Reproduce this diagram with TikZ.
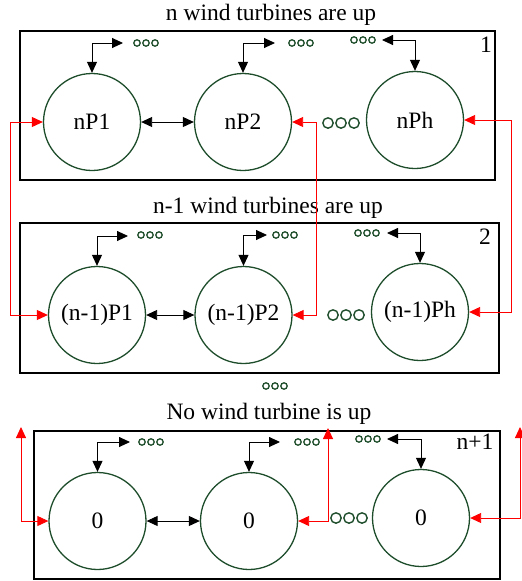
\documentclass[tikz,border=0pt]{standalone}
\usepackage{fontspec}
\setmainfont{Liberation Serif}
\usetikzlibrary{arrows.meta}
\definecolor{dgreen}{HTML}{1E4D2B}
\begin{document}
\begin{tikzpicture}[x=1pt,y=-1pt,
  state/.style={circle,draw=dgreen,line width=1.3pt,minimum size=97pt,inner sep=0pt,font=\fontsize{23.5}{26}\selectfont},
  panel/.style={draw=black,line width=1.8pt},
  ttl/.style={font=\fontsize{23.5}{26}\selectfont,inner sep=0pt},
  blk/.style={draw=black,line width=0.9pt},
  bitip/.style={{Triangle[length=11pt,width=10pt]}-{Triangle[length=11pt,width=10pt]}},
  redl/.style={draw=red,line width=0.9pt,{Triangle[length=11pt,width=10pt]}-{Triangle[length=11pt,width=10pt]}},
  ooo/.pic={\foreach \i in {-1,0,1} \draw[dgreen,line width=1.3pt] (\i*9,0) circle (3.2);},
  bigooo/.pic={\foreach \i in {-1,0,1} \draw[dgreen,line width=1.4pt] (\i*13,0) circle (5.2);}
]
\useasboundingbox (0,0) rectangle (522,581);

% panels
\draw[panel] (20,31) rectangle (495,180);
\draw[panel] (20,223) rectangle (499,373);
\draw[panel] (34,431) rectangle (500,579);

% titles and labels
\node[ttl] (t1) at (271,15) {n wind turbines are up};
\node[ttl] (t2) at (268,208) {n-1 wind turbines are up};
\node[ttl] (t3) at (269,414) {No wind turbine is up};
\node[ttl] (l1) at (486,45) {1};
\node[ttl] (l2) at (485,237) {2};
\node[ttl] (l3) at (475,442) {n+1};

% states
\node[state] (A1) at (92,122) {nP1};
\node[state] (A2) at (243,122) {nP2};
\node[state] (A3) at (415,120) {nPh};
\node[state] (B1) at (97,315) {(n-1)P1};
\node[state] (B2) at (243.5,315) {(n-1)P2};
\node[state] (B3) at (420,312) {(n-1)Ph};
\node[state] (C1) at (97.5,521) {0};
\node[state] (C2) at (249,521) {0};
\node[state] (C3) at (421,518) {0};

% horizontal double arrows
\draw[blk,bitip] (A1) -- (A2);
\draw[blk,bitip] (B1) -- (B2);
\draw[blk,bitip] (C1) -- (C2);

% dots
\pic at (146,43) {ooo};
\pic at (301,43) {ooo};
\pic at (363,40) {ooo};
\pic at (150,235) {ooo};
\pic at (285,235) {ooo};
\pic at (367,233) {ooo};
\pic at (151,442) {ooo};
\pic at (307,442) {ooo};
\pic at (368,439) {ooo};
\pic at (275,386) {ooo};
\pic at (341,123) {bigooo};
\pic at (346,315) {bigooo};
\pic at (349,518) {bigooo};

% top loop arrows
\coordinate (a1e) at (123,43);
\coordinate (a2e) at (275,43);
\coordinate (a3e) at (382,40);
\coordinate (b1e) at (128,236);
\coordinate (b2e) at (267,235);
\coordinate (b3e) at (387,233);
\coordinate (c1e) at (130,442);
\coordinate (c2e) at (280,442);
\coordinate (c3e) at (387,439);
\draw[blk,bitip] (A1.north) |- (a1e);
\draw[blk,bitip] (A2.north) |- (a2e);
\draw[blk,bitip] (A3.north) |- (a3e);
\draw[blk,bitip] (B1.north) |- (b1e);
\draw[blk,bitip] (B2.north) |- (b2e);
\draw[blk,bitip] (B3.north) |- (b3e);
\draw[blk,bitip] (C1.north) |- (c1e);
\draw[blk,bitip] (C2.north) |- (c2e);
\draw[blk,bitip] (C3.north) |- (c3e);

% red transitions
\draw[redl] (A1.west) -- ++(-32,0) |- (B1.west);
\draw[redl] (A2.east) -- ++(24,0) |- (B2.east);
\draw[redl] (A3.east) -- ++(47,0) |- (B3.east);
\coordinate (u1) at (21,427);
\coordinate (u2) at (328,428);
\coordinate (u3) at (520,427);
\draw[redl] (u1) |- (C1.west);
\draw[redl] (u2) |- (C2.east);
\draw[redl] (u3) |- (C3.east);
\end{tikzpicture}
\end{document}
